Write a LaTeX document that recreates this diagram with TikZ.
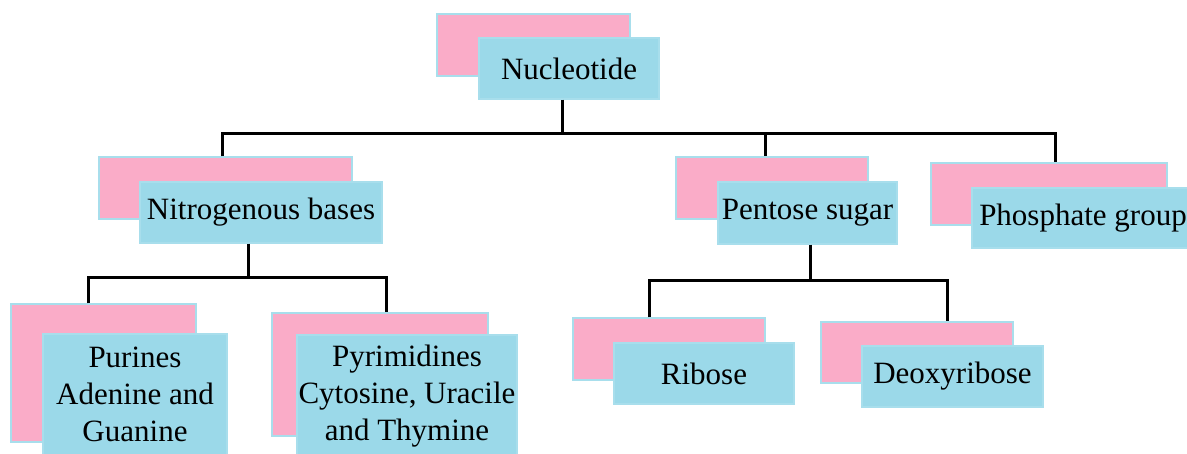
\documentclass[tikz,border=0pt]{standalone}
\usepackage{fontspec}
\setmainfont{Liberation Serif}
\definecolor{pinkc}{RGB}{250,172,200}
\definecolor{bluec}{RGB}{155,217,233}
\definecolor{bordc}{RGB}{168,222,236}
\begin{document}
\begin{tikzpicture}[x=1pt,y=-1pt,
  font=\fontsize{31}{37}\selectfont,
  pinkbox/.style={fill=pinkc,draw=bordc,line width=1.2pt,inner sep=0pt},
  bluebox/.style={fill=bluec,draw=bordc,line width=1.2pt,inner sep=0pt,align=center,text=black},
  conn/.style={draw=black,line width=3pt,line join=miter}]
\useasboundingbox (0,0) rectangle (1187,453);

% boxes (pink behind, blue in front)
\node[pinkbox,minimum width=193pt,minimum height=62pt] (nucP) at (533.5,45) {};
\node[bluebox,minimum width=180pt,minimum height=61pt] (nucB) at (569,68.5) {Nucleotide};

\node[pinkbox,minimum width=253pt,minimum height=62pt] (nitP) at (225.5,188) {};
\node[bluebox,minimum width=242pt,minimum height=61pt] (nitB) at (261,212.5) {Nitrogenous bases};

\node[pinkbox,minimum width=192pt,minimum height=62pt] (penP) at (772,188) {};
\node[bluebox,minimum width=179pt,minimum height=62pt] (penB) at (807.5,213) {Pentose sugar};

\node[pinkbox,minimum width=236pt,minimum height=62pt] (phoP) at (1049,194) {};
\node[bluebox,minimum width=222pt,minimum height=60pt] (phoB) at (1083,218) {Phosphate group};

\node[pinkbox,minimum width=185pt,minimum height=138pt] (purP) at (103.5,373) {};
\node[bluebox,minimum width=184pt,minimum height=121pt] (purB) at (135,394.5) {Purines\\Adenine and\\Guanine};

\node[pinkbox,minimum width=216pt,minimum height=123pt] (pyrP) at (380,374.5) {};
\node[bluebox,minimum width=220pt,minimum height=122pt] (pyrB) at (407,396) {Pyrimidines\\Cytosine, Uracile\\and Thymine};

\node[pinkbox,minimum width=192pt,minimum height=62pt] (ribP) at (669,349) {};
\node[bluebox,minimum width=180pt,minimum height=61pt] (ribB) at (704,373.5) {Ribose};

\node[pinkbox,minimum width=192pt,minimum height=61pt] (deoP) at (917,352.5) {};
\node[bluebox,minimum width=181pt,minimum height=61pt] (deoB) at (952.5,376.5) {Deoxyribose};

% connector anchor points
\coordinate (busA) at (0,133);
\coordinate (busB) at (0,277);
\coordinate (busC) at (0,280);
\coordinate (nucOut) at ([xshift=-7pt]nucB.south);
\coordinate (nitIn) at ([xshift=-3pt]nitP.north);
\coordinate (penIn) at ([xshift=-7pt]penP.north);
\coordinate (phoIn) at ([xshift=6pt]phoP.north);
\coordinate (nitOut) at ([xshift=-13pt]nitB.south);
\coordinate (purIn) at ([xshift=-15pt]purP.north);
\coordinate (pyrIn) at ([xshift=6pt]pyrP.north);
\coordinate (penOut) at ([xshift=2.5pt]penB.south);
\coordinate (ribIn) at ([xshift=-20pt]ribP.north);
\coordinate (deoIn) at ([xshift=30pt]deoP.north);

% connectors
\draw[conn] (nucOut) -- (nucOut |- busA);
\draw[conn] (nitIn) -- (nitIn |- busA) -- (phoIn |- busA) -- (phoIn);
\draw[conn] (penIn |- busA) -- (penIn);

\draw[conn] (nitOut) -- (nitOut |- busB);
\draw[conn] (purIn) -- (purIn |- busB) -- (pyrIn |- busB) -- (pyrIn);

\draw[conn] (penOut) -- (penOut |- busC);
\draw[conn] (ribIn) -- (ribIn |- busC) -- (deoIn |- busC) -- (deoIn);
\end{tikzpicture}
\end{document}
